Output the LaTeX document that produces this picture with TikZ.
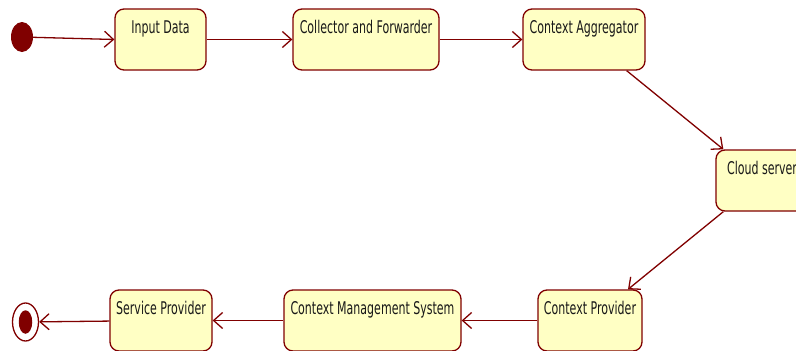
\documentclass[tikz,border=0pt]{standalone}
\usepackage{fontspec}
\setmainfont{DejaVu Sans}[FakeStretch=0.63]
\usetikzlibrary{arrows.meta,shapes.geometric}
\definecolor{umlred}{HTML}{800000}
\definecolor{umlfill}{HTML}{FFFFC4}
\tikzset{
  state/.style={draw=umlred, fill=umlfill, line width=1.3pt, rounded corners=9pt,
    inner xsep=0pt, inner ysep=0pt, minimum height=61pt, text height=24pt, text depth=37pt,
    font=\fontsize{17.5}{20}\selectfont, text=black!90},
  flow/.style={draw=umlred, line width=1.3pt, -{Straight Barb[length=9pt,width=16pt,line width=1.3pt]}},
}
\begin{document}
\begin{tikzpicture}[x=1pt,y=-1pt]
\useasboundingbox (0,0) rectangle (796,351);
\clip (0,0) rectangle (796,351);
\node[ellipse, fill=umlred, minimum width=22pt, minimum height=30pt, inner sep=0pt] (init) at (22,37) {};
\node[state, minimum width=91pt] (input) at (160.5,39.5) {Input Data};
\node[state, minimum width=146pt] (coll) at (366,39.5) {Collector and Forwarder};
\node[state, minimum width=122pt] (agg) at (584,39.5) {Context Aggregator};
\node[state, minimum width=92pt] (cloud) at (762,180.5) {Cloud server};
\node[state, minimum width=104pt] (cp) at (590,320.5) {Context Provider};
\node[state, minimum width=177pt] (cms) at (372.5,320.5) {Context Management System};
\node[state, minimum width=102pt] (sp) at (161,320.5) {Service Provider};
\node[ellipse, draw=umlred, line width=1.3pt, fill=white, minimum width=26pt, minimum height=38pt, inner sep=0pt] (final) at (25.5,322) {};
\node[ellipse, fill=umlred, minimum width=13.5pt, minimum height=23.5pt, inner sep=0pt] (finaldot) at (final.center) {};
\draw[flow] (init) -- (input.west);
\draw[flow] (input) -- (coll);
\draw[flow] (coll) -- (agg);
\draw[flow] ([xshift=-19pt]agg.south east) -- ([xshift=8pt]cloud.north west);
\draw[flow] ([xshift=8pt]cloud.south west) -- ([xshift=38pt]cp.north);
\draw[flow] (cp) -- (cms);
\draw[flow] (cms) -- (sp);
\draw[flow] (sp) -- (final);
\end{tikzpicture}
\end{document}
